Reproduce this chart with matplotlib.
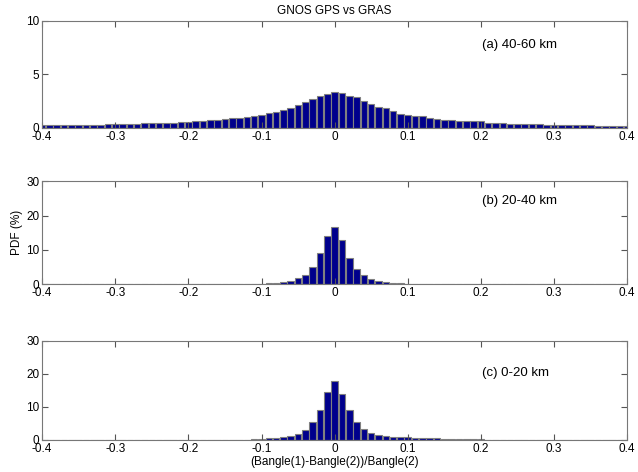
import numpy as np
import matplotlib.pyplot as plt

plt.rcParams['font.family'] = ['Liberation Sans', 'DejaVu Sans']
plt.rcParams['font.size'] = 8

# bin centres (-0.4 .. 0.4, step 0.01)
centers = np.round(np.arange(-40, 41) / 100.0, 2)

# (a) 40-60 km
pdf_a = [0.25, 0.25, 0.25, 0.25, 0.25, 0.25, 0.25, 0.3, 0.3, 0.32,
         0.35, 0.38, 0.4, 0.4, 0.42, 0.45, 0.48, 0.5, 0.5, 0.55,
         0.58, 0.6, 0.65, 0.7, 0.75, 0.8, 0.9, 0.95, 1.0, 1.1,
         1.25, 1.35, 1.5, 1.7, 1.85, 2.1, 2.4, 2.7, 2.95, 3.2,
         3.35, 3.25, 3.0, 2.85, 2.5, 2.25, 1.95, 1.85, 1.6, 1.3,
         1.25, 1.1, 1.1, 0.95, 0.85, 0.75, 0.7, 0.6, 0.6, 0.65,
         0.6, 0.5, 0.45, 0.45, 0.4, 0.4, 0.35, 0.35, 0.35, 0.3,
         0.3, 0.3, 0.28, 0.25, 0.25, 0.25, 0.22, 0.22, 0.22, 0.2, 0.2]

# (b) 20-40 km
pdf_b = [0.0] * 26 + [0.05, 0.05, 0.1, 0.1,
                      0.15, 0.2, 0.4, 0.6, 1.0, 1.75, 2.6, 5.0, 9.0, 13.9,
                      16.8,
                      12.8, 7.7, 4.5, 2.6, 1.55, 0.9, 0.6, 0.3, 0.2, 0.15,
                      0.1, 0.1, 0.05, 0.05] + [0.0] * 26

# (c) 0-20 km
pdf_c = [0.05] * 28 + [0.1, 0.3,
                       0.4, 0.6, 0.7, 1.0, 1.2, 1.7, 3.0, 5.3, 8.9, 14.6,
                       17.9,
                       14.0, 8.9, 5.3, 3.3, 2.2, 1.6, 1.2, 1.0, 0.9, 0.8,
                       0.6, 0.6, 0.5, 0.45, 0.4, 0.4, 0.35, 0.35, 0.3, 0.3] + [0.05] * 20

panels = [
    (pdf_a, [0, 5, 10], '(a) 40-60 km', 7.5),
    (pdf_b, [0, 10, 20, 30], '(b) 20-40 km', 23.3),
    (pdf_c, [0, 10, 20, 30], '(c) 0-20 km', 19.3),
]
boxes = [
    [0.066, 0.729, 0.917, 0.227],
    [0.066, 0.398, 0.917, 0.218],
    [0.066, 0.068, 0.917, 0.210],
]

fig = plt.figure(figsize=(6.38, 4.72), dpi=100)
axes = []
for (vals, yt, lab, ly), box in zip(panels, boxes):
    ax = fig.add_axes(box)
    ax.bar(centers, vals, width=0.009, color='#00008C', edgecolor='#808080',
           linewidth=0.8)
    ax.set_xlim(-0.4, 0.4)
    ax.set_ylim(yt[0], yt[-1])
    ax.set_yticks(yt)
    ax.set_xticks(np.round(np.arange(-4, 5) / 10.0, 1))
    ax.set_xticklabels(['-0.4', '-0.3', '-0.2', '-0.1', '0', '0.1', '0.2', '0.3', '0.4'])
    ax.tick_params(direction='in', top=True, right=True, length=4,
                   color='#555555', pad=2, labelsize=8.5)
    for s in ax.spines.values():
        s.set_color('#777777')
    ax.text(0.202, ly, lab, fontsize=9.5)
    axes.append(ax)

axes[0].set_title('GNOS GPS vs GRAS', fontsize=8.5, pad=5)
axes[1].set_ylabel('PDF (%)', labelpad=2, fontsize=8.5)
axes[2].set_xlabel('(Bangle(1)-Bangle(2))/Bangle(2)', labelpad=1, fontsize=8.5)

fig.savefig('out.png', dpi=100)
